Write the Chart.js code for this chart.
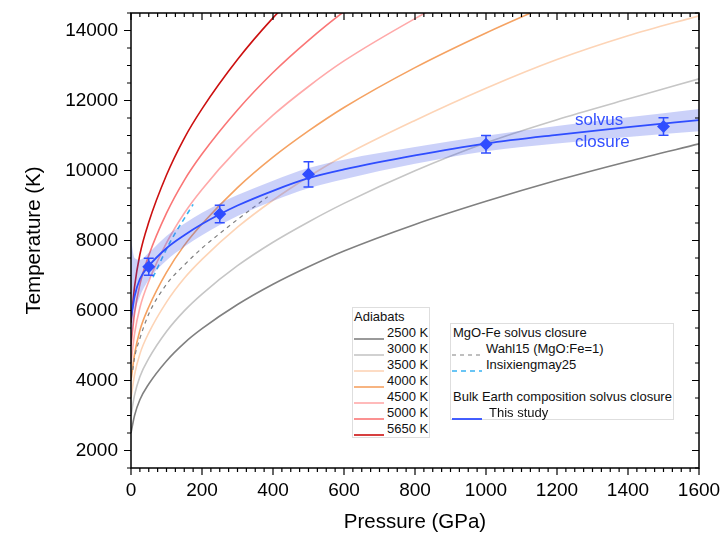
<!DOCTYPE html>
<html>
<head>
<meta charset="utf-8">
<title>Adiabats and solvus closure</title>
<script src="https://cdn.jsdelivr.net/npm/chart.js@4.4.0/dist/chart.umd.min.js"></script>
<style>
    html, body { margin: 0; padding: 0; background: #fff; }
    #wrap { position: relative; width: 725px; height: 537px; font-family: 'Liberation Sans', Arial, sans-serif; }
    #chart { position: absolute; left: 0; top: 0; }
    .legend { position: absolute; box-sizing: border-box; background: #fff; border: 1px solid #dedede; color: #111; font-size: 13px; }
    .row { position: absolute; height: 16px; line-height: 16px; white-space: nowrap; }
    .sample { position: absolute; height: 6px; }
    #note { position: absolute; left: 575px; top: 109px; color: #3550ff; font-size: 17px; line-height: 21.7px; }
</style>
</head>
<body>
<div id="wrap">
    <canvas id="chart" width="725" height="537"></canvas>
    <div class="legend" id="legendAdiabats" style="left:352px; top:307px; width:78px; height:131px;"></div>
    <div class="legend" id="legendSolvus" style="left:450px; top:323px; width:224px; height:97px;"></div>
    <div id="note">solvus<br>closure</div>
</div>
<script>
// ---- data ----
const pressureGrid = [0, 10, 25, 50, 100, 150, 200, 300, 400, 500, 600, 800, 1000, 1200, 1400, 1600];

const adiabatLabels = ['2500 K', '3000 K', '3500 K', '4000 K', '4500 K', '5000 K', '5650 K'];
const adiabatColors = ['#808080', '#c6c6c6', '#fdd4b6', '#f5a262', '#ffa9a9', '#fa7676', '#cc1010'];
const adiabat2500 = [2500, 3000, 3450, 3900, 4560, 5070, 5480, 6170, 6750, 7250, 7700, 8460, 9120, 9720, 10260, 10760];
const adiabat3000 = [3000, 3580, 4110, 4630, 5400, 5990, 6470, 7280, 7950, 8530, 9060, 9990, 10790, 11450, 12040, 12620];
const adiabat3500 = [3500, 4165, 4760, 5360, 6240, 6920, 7460, 8380, 9150, 9820, 10420, 11430, 12350, 13170, 13850, 14420];
const adiabat4000 = [4000, 4750, 5430, 6100, 7090, 7860, 8470, 9510, 10380, 11130, 11800, 12940, 13930, 14830];
const adiabat4500 = [4500, 5330, 6080, 6830, 7930, 8780, 9460, 10610, 11580, 12400, 13130, 14340, 15420];
const adiabat5000 = [5000, 5920, 6740, 7570, 8780, 9720, 10470, 11730, 12800, 13720, 14540, 15940];
const adiabat5650 = [5650, 6680, 7600, 8520, 9870, 10920, 11760, 13170, 14360, 15390];
const adiabatTemps = [adiabat2500, adiabat3000, adiabat3500, adiabat4000, adiabat4500, adiabat5000, adiabat5650];

// MgO-Fe solvus closure curves
const wahlPressure = [5, 10, 25, 50, 100, 150, 200, 250, 300, 385];
const wahlTemp = [4300, 4650, 5200, 5900, 6750, 7300, 7780, 8200, 8600, 9250];
const insixPressure = [62, 110, 175];
const insixTemp = [6950, 7950, 9030];

// Bulk Earth solvus closure fit (this study) with its uncertainty band
const fitPressure = [0, 5, 10, 25, 50, 100, 150, 200, 250, 300, 400, 500, 600, 800, 1000, 1200, 1400, 1600];
const fitTemp = [5800, 6100, 6400, 6900, 7270, 7780, 8150, 8470, 8750, 9000, 9420, 9780, 10030, 10430, 10770, 11020, 11240, 11440];
const bandUpper = [8100, 7700, 7500, 7450, 7650, 8130, 8480, 8790, 9060, 9300, 9710, 10070, 10310, 10670, 10990, 11270, 11520, 11760];
const bandLower = [5000, 5500, 5900, 6400, 6880, 7430, 7820, 8150, 8440, 8700, 9130, 9490, 9750, 10190, 10550, 10770, 10960, 11120];

// measured closure points
const pointPressure = [50, 250, 500, 1000, 1500];
const pointTemp = [7250, 8760, 9890, 10750, 11260];
const pointError = [240, 250, 360, 250, 250];

const xTicks = [0, 200, 400, 600, 800, 1000, 1200, 1400, 1600];
const yTicks = [2000, 4000, 6000, 8000, 10000, 12000, 14000];

// ---- style ----
const FONT = "'Liberation Sans', Arial, sans-serif";
const BLUE = '#2f4dff';
const BAND = 'rgba(70, 90, 235, 0.28)';
const WAHL_COLOR = '#808080';
const INSIX_COLOR = '#39b3f2';
const X_MINOR = 25, X_MAJOR = 200, Y_MINOR = 500, Y_MAJOR = 2000;
const MAJOR_LEN = 7, MINOR_LEN = 4;

const toXY = (xs, ys) => ys.map((y, i) => ({ x: xs[i], y: y }));

const datasets = [
    {
        label: 'closure points',
        data: toXY(pointPressure, pointTemp),
        showLine: false,
        pointStyle: 'rectRot',
        pointRadius: 6.5,
        backgroundColor: BLUE,
        borderColor: BLUE,
        borderWidth: 0,
        order: 0
    },
    {
        label: 'This study',
        data: toXY(fitPressure, fitTemp),
        borderColor: BLUE,
        borderWidth: 1.8,
        pointRadius: 0,
        cubicInterpolationMode: 'monotone',
        order: 1
    },
    {
        label: 'band upper',
        data: toXY(fitPressure, bandUpper),
        borderWidth: 0,
        borderColor: 'rgba(0,0,0,0)',
        pointRadius: 0,
        cubicInterpolationMode: 'monotone',
        fill: '+1',
        backgroundColor: BAND,
        order: 2
    },
    {
        label: 'band lower',
        data: toXY(fitPressure, bandLower),
        borderWidth: 0,
        borderColor: 'rgba(0,0,0,0)',
        pointRadius: 0,
        cubicInterpolationMode: 'monotone',
        fill: false,
        order: 2
    },
    {
        label: 'Insixiengmay25',
        data: toXY(insixPressure, insixTemp),
        borderColor: INSIX_COLOR,
        borderWidth: 1.6,
        borderDash: [5, 4],
        pointRadius: 0,
        cubicInterpolationMode: 'monotone',
        order: 3
    },
    {
        label: 'Wahl15 (MgO:Fe=1)',
        data: toXY(wahlPressure, wahlTemp),
        borderColor: WAHL_COLOR,
        borderWidth: 1.2,
        borderDash: [4, 4],
        pointRadius: 0,
        cubicInterpolationMode: 'monotone',
        order: 4
    }
];

adiabatTemps.forEach((temps, i) => {
    datasets.push({
        label: adiabatLabels[i],
        data: toXY(pressureGrid, temps),
        borderColor: adiabatColors[i],
        borderWidth: 1.6,
        pointRadius: 0,
        cubicInterpolationMode: 'monotone',
        order: 10 + i
    });
});

// error bars on the measured points
const errorBars = {
    id: 'errorBars',
    afterDatasetsDraw(chart) {
        const { ctx, scales: { x, y } } = chart;
        ctx.save();
        ctx.strokeStyle = BLUE;
        ctx.lineWidth = 1.5;
        ctx.beginPath();
        pointPressure.forEach((p, i) => {
            const px = x.getPixelForValue(p);
            const top = y.getPixelForValue(pointTemp[i] + pointError[i]);
            const bottom = y.getPixelForValue(pointTemp[i] - pointError[i]);
            ctx.moveTo(px, top); ctx.lineTo(px, bottom);
            ctx.moveTo(px - 5, top); ctx.lineTo(px + 5, top);
            ctx.moveTo(px - 5, bottom); ctx.lineTo(px + 5, bottom);
        });
        ctx.stroke();
        ctx.restore();
    }
};

// box frame with major/minor ticks (out on left/bottom, in on top/right)
const frameTicks = {
    id: 'frameTicks',
    afterDraw(chart) {
        const { ctx, chartArea: a, scales: { x, y } } = chart;
        ctx.save();
        ctx.strokeStyle = '#000';
        ctx.lineWidth = 1.2;
        ctx.beginPath();
        for (let v = x.min; v <= x.max + 1e-6; v += X_MINOR) {
            const px = x.getPixelForValue(v);
            const len = v % X_MAJOR === 0 ? MAJOR_LEN : MINOR_LEN;
            ctx.moveTo(px, a.bottom); ctx.lineTo(px, a.bottom + len);
            ctx.moveTo(px, a.top); ctx.lineTo(px, a.top + len);
        }
        for (let v = y.min; v <= y.max + 1e-6; v += Y_MINOR) {
            const py = y.getPixelForValue(v);
            const len = v % Y_MAJOR === 0 ? MAJOR_LEN : MINOR_LEN;
            ctx.moveTo(a.left, py); ctx.lineTo(a.left - len, py);
            ctx.moveTo(a.right, py); ctx.lineTo(a.right - len, py);
        }
        ctx.stroke();
        ctx.lineWidth = 1.5;
        ctx.strokeRect(a.left, a.top, a.right - a.left, a.bottom - a.top);
        ctx.restore();
    }
};

new Chart(document.getElementById('chart'), {
    type: 'line',
    data: { datasets: datasets },
    options: {
        responsive: false,
        animation: false,
        layout: { padding: { top: 13, right: 26, bottom: 0, left: 0 } },
        plugins: {
            legend: { display: false },
            tooltip: { enabled: false }
        },
        scales: {
            x: {
                type: 'linear',
                min: 0,
                max: 1600,
                afterBuildTicks: (s) => { s.ticks = xTicks.map(v => ({ value: v })); },
                afterFit: (s) => { s.height = 69; s.paddingLeft = 0; s.paddingRight = 0; },
                grid: { display: false, drawTicks: false },
                border: { display: false },
                ticks: { color: '#000', padding: 11, maxRotation: 0, autoSkip: false, callback: (v) => String(v), font: { family: FONT, size: 19 } },
                title: { display: true, text: 'Pressure (GPa)', color: '#000', padding: { top: 0, bottom: 2 }, font: { family: FONT, size: 20.5 } }
            },
            y: {
                type: 'linear',
                min: 1500,
                max: 14500,
                afterBuildTicks: (s) => { s.ticks = yTicks.map(v => ({ value: v })); },
                afterFit: (s) => { s.width = 131; s.paddingTop = 0; s.paddingBottom = 0; },
                grid: { display: false, drawTicks: false },
                border: { display: false },
                ticks: { color: '#000', padding: 13, autoSkip: false, callback: (v) => String(v), font: { family: FONT, size: 19 } },
                title: { display: true, text: 'Temperature (K)', color: '#000', padding: { top: 22, bottom: 0 }, font: { family: FONT, size: 20.5 } }
            }
        }
    },
    plugins: [errorBars, frameTicks]
});

// ---- legends (HTML text) ----
function lineSample(color, dash, width) {
    const dashAttr = dash ? ` stroke-dasharray="${dash}"` : '';
    return `<svg width="30" height="6"><line x1="0" y1="3" x2="30" y2="3" stroke="${color}" stroke-width="${width}"${dashAttr}/></svg>`;
}

function addRow(box, centerY, textLeft, text, sample) {
    const row = document.createElement('div');
    row.className = 'row';
    row.style.left = textLeft + 'px';
    row.style.top = (centerY - 8) + 'px';
    row.textContent = text;
    box.appendChild(row);
    if (sample) {
        const s = document.createElement('div');
        s.className = 'sample';
        s.style.left = '1px';
        s.style.top = (centerY - 3) + 'px';
        s.innerHTML = sample;
        box.appendChild(s);
    }
}

const adiabatBox = document.getElementById('legendAdiabats');
addRow(adiabatBox, 9, 1, 'Adiabats');
adiabatLabels.forEach((label, i) => {
    addRow(adiabatBox, 25 + 16 * i, 34, label, lineSample(adiabatColors[i], null, 1.6));
});

const solvusBox = document.getElementById('legendSolvus');
addRow(solvusBox, 9, 2, 'MgO-Fe solvus closure');
addRow(solvusBox, 25, 35, 'Wahl15 (MgO:Fe=1)', lineSample(WAHL_COLOR, '4,4', 1.2));
addRow(solvusBox, 41, 35, 'Insixiengmay25', lineSample(INSIX_COLOR, '5,4', 1.6));
addRow(solvusBox, 73, 2, 'Bulk Earth composition solvus closure');
addRow(solvusBox, 88.5, 38, 'This study', lineSample(BLUE, null, 1.8));
</script>
</body>
</html>
